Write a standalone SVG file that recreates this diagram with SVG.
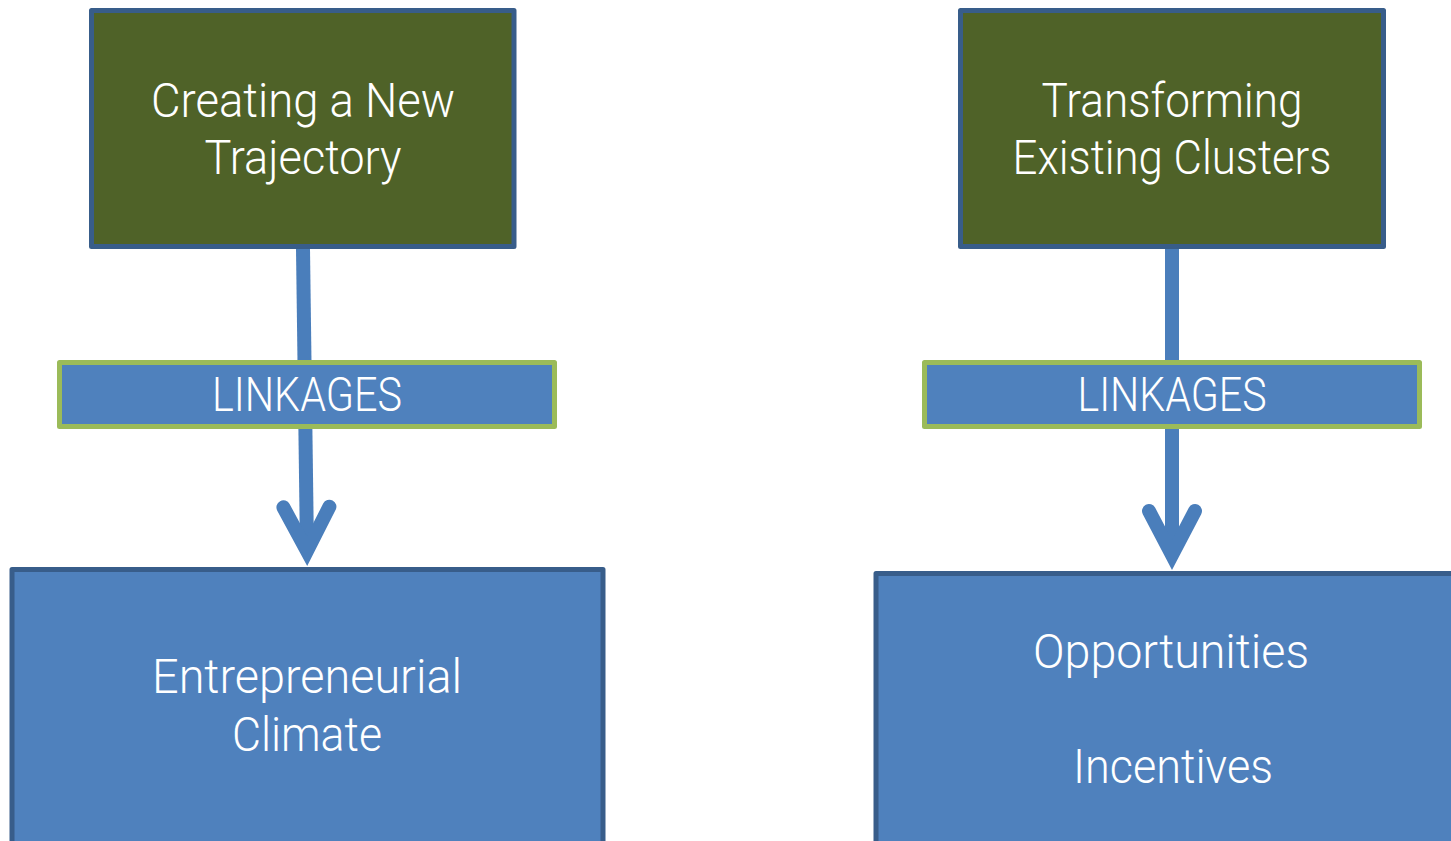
<svg xmlns="http://www.w3.org/2000/svg" width="1451" height="841" viewBox="0 0 1451 841">
<style>
.dark{fill:#4F6228;stroke:#385D8A;stroke-width:5;stroke-linejoin:round}
.blue{fill:#4F81BD;stroke:#385D8A;stroke-width:5;stroke-linejoin:round}
.link{fill:#4F81BD;stroke:#9BBB59;stroke-width:5;stroke-linejoin:round}
.conn{fill:none;stroke:#4A7EBB;stroke-width:14}
text{font-family:Roboto,"DejaVu Sans Condensed","Liberation Sans",sans-serif;font-weight:300;font-size:48px;fill:#FFFFFF;text-anchor:middle}
</style>
<defs>
<marker id="ah" markerUnits="userSpaceOnUse" markerWidth="120" markerHeight="120" viewBox="-60 -60 120 120" refX="0" refY="0" orient="auto" overflow="visible">
<path d="M-44,-23 L0,0 L-44,23" fill="none" stroke="#4A7EBB" stroke-width="14" stroke-linecap="round" stroke-linejoin="miter" stroke-miterlimit="10"/>
</marker>
</defs>
<rect width="1451" height="841" fill="#FFFFFF"/>
<g id="connectors">
<path class="conn" d="M303,249 L307,551" marker-end="url(#ah)"/>
<path class="conn" d="M1172,249 L1172,555" marker-end="url(#ah)"/>
</g>
<g id="node-creating">
<rect class="dark" x="91.5" y="10.5" width="422.5" height="236"/>
<text x="303" y="117" textLength="304" lengthAdjust="spacingAndGlyphs">Creating a New</text>
<text x="303" y="174" textLength="197" lengthAdjust="spacingAndGlyphs">Trajectory</text>
</g>
<g id="node-transforming">
<rect class="dark" x="960.5" y="10.5" width="423" height="236"/>
<text x="1172" y="117" textLength="261" lengthAdjust="spacingAndGlyphs">Transforming</text>
<text x="1172" y="174" textLength="319" lengthAdjust="spacingAndGlyphs">Existing Clusters</text>
</g>
<g id="node-linkages-left">
<rect class="link" x="59.5" y="362.5" width="495" height="64"/>
<text x="307" y="411" textLength="190" lengthAdjust="spacingAndGlyphs">LINKAGES</text>
</g>
<g id="node-linkages-right">
<rect class="link" x="924.5" y="362.5" width="495" height="64"/>
<text x="1172" y="411" textLength="189" lengthAdjust="spacingAndGlyphs">LINKAGES</text>
</g>
<g id="node-entrepreneurial">
<rect class="blue" x="12" y="569.5" width="591" height="300"/>
<text x="307" y="693" textLength="310" lengthAdjust="spacingAndGlyphs">Entrepreneurial</text>
<text x="307" y="751" textLength="150" lengthAdjust="spacingAndGlyphs">Climate</text>
</g>
<g id="node-opportunities">
<rect class="blue" x="876" y="573.5" width="600" height="300"/>
<text x="1171" y="668" textLength="276" lengthAdjust="spacingAndGlyphs">Opportunities</text>
<text x="1173" y="783" textLength="200" lengthAdjust="spacingAndGlyphs">Incentives</text>
</g>
</svg>
